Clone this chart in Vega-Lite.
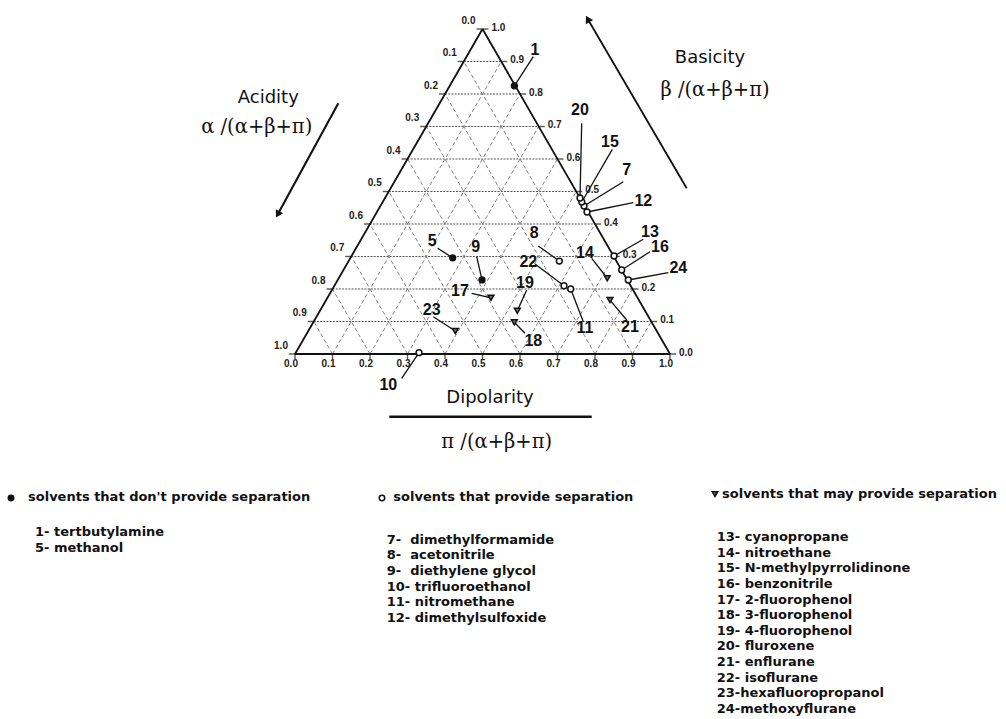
{
  "$schema": "https://vega.github.io/schema/vega-lite/v6.json",
  "width": 1006,
  "height": 719,
  "autosize": {"type": "none"},
  "padding": 0,
  "background": "white",
  "config": {"view": {"stroke": null}},
  "datasets": {
    "solvents": [
      {"id": 1, "name": "tertbutylamine", "group": "no separation", "marker": "dot", "u": 0.585, "v": 0.825, "label_u": 0.64, "label_v": 0.9354, "lead_u": 0.6355, "lead_v": 0.9148},
      {"id": 5, "name": "methanol", "group": "no separation", "marker": "dot", "u": 0.4205, "v": 0.296, "label_u": 0.3661, "label_v": 0.3486, "lead_u": 0.3805, "lead_v": 0.3252},
      {"id": 7, "name": "dimethylformamide", "group": "separation", "marker": "ring", "u": 0.7707, "v": 0.4554, "label_u": 0.8845, "label_v": 0.5662, "lead_u": 0.8755, "lead_v": 0.5302},
      {"id": 8, "name": "acetonitrile", "group": "separation", "marker": "ring", "u": 0.7048, "v": 0.286, "label_u": 0.6381, "label_v": 0.3714, "lead_u": 0.6488, "lead_v": 0.3323},
      {"id": 9, "name": "diethylene glycol", "group": "separation", "marker": "dot", "u": 0.4987, "v": 0.228, "label_u": 0.4819, "label_v": 0.3283, "lead_u": 0.4845, "lead_v": 0.2994},
      {"id": 10, "name": "trifluoroethanol", "group": "separation", "marker": "ring", "u": 0.3307, "v": 0.004, "label_u": 0.2488, "label_v": -0.0954, "lead_u": 0.2845, "lead_v": -0.0748},
      {"id": 11, "name": "nitromethane", "group": "separation", "marker": "ring", "u": 0.7352, "v": 0.2, "label_u": 0.7733, "label_v": 0.0791, "lead_u": 0.7688, "lead_v": 0.0994},
      {"id": 12, "name": "dimethylsulfoxide", "group": "separation", "marker": "ring", "u": 0.7787, "v": 0.4369, "label_u": 0.9288, "label_v": 0.4708, "lead_u": 0.9021, "lead_v": 0.4655},
      {"id": 13, "name": "cyanopropane", "group": "may separate", "marker": "ring", "u": 0.8507, "v": 0.3015, "label_u": 0.9467, "label_v": 0.3763, "lead_u": 0.9288, "lead_v": 0.3529},
      {"id": 14, "name": "nitroethane", "group": "may separate", "marker": "triangle", "u": 0.8328, "v": 0.233, "label_u": 0.7733, "label_v": 0.3098, "lead_u": 0.7912, "lead_v": 0.2945},
      {"id": 15, "name": "N-methylpyrrolidinone", "group": "may separate", "marker": "ring", "u": 0.7648, "v": 0.4677, "label_u": 0.84, "label_v": 0.6532, "lead_u": 0.8461, "lead_v": 0.6298},
      {"id": 16, "name": "benzonitrile", "group": "may separate", "marker": "ring", "u": 0.8712, "v": 0.2585, "label_u": 0.9733, "label_v": 0.3283, "lead_u": 0.9467, "lead_v": 0.3148},
      {"id": 17, "name": "2-fluorophenol", "group": "may separate", "marker": "triangle", "u": 0.5227, "v": 0.173, "label_u": 0.44, "label_v": 0.1948, "lead_u": 0.4712, "lead_v": 0.1865},
      {"id": 18, "name": "3-fluorophenol", "group": "may separate", "marker": "triangle", "u": 0.5848, "v": 0.0975, "label_u": 0.6355, "label_v": 0.0409, "lead_u": 0.6133, "lead_v": 0.0637},
      {"id": 19, "name": "4-fluorophenol", "group": "may separate", "marker": "triangle", "u": 0.5928, "v": 0.133, "label_u": 0.6133, "label_v": 0.2175, "lead_u": 0.6179, "lead_v": 0.1969},
      {"id": 20, "name": "fluroxene", "group": "may separate", "marker": "ring", "u": 0.76, "v": 0.48, "label_u": 0.76, "label_v": 0.7508, "lead_u": 0.7645, "lead_v": 0.7098},
      {"id": 21, "name": "enflurane", "group": "may separate", "marker": "triangle", "u": 0.84, "v": 0.166, "label_u": 0.8933, "label_v": 0.084, "lead_u": 0.8845, "lead_v": 0.1046},
      {"id": 22, "name": "isoflurane", "group": "may separate", "marker": "ring", "u": 0.7173, "v": 0.21, "label_u": 0.6221, "label_v": 0.284, "lead_u": 0.64, "lead_v": 0.2769},
      {"id": 23, "name": "hexafluoropropanol", "group": "may separate", "marker": "triangle", "u": 0.4275, "v": 0.0708, "label_u": 0.3645, "label_v": 0.1354, "lead_u": 0.3688, "lead_v": 0.1148},
      {"id": 24, "name": "methoxyflurane", "group": "may separate", "marker": "ring", "u": 0.8888, "v": 0.2277, "label_u": 1.0221, "label_v": 0.2637, "lead_u": 0.9955, "lead_v": 0.2502}
    ],
    "grid": [
      {"kind": "beta", "u": 0.05, "v": 0.1, "u2": 0.95, "v2": 0.1},
      {"kind": "beta", "u": 0.1, "v": 0.2, "u2": 0.9, "v2": 0.2},
      {"kind": "beta", "u": 0.15, "v": 0.3, "u2": 0.85, "v2": 0.3},
      {"kind": "beta", "u": 0.2, "v": 0.4, "u2": 0.8, "v2": 0.4},
      {"kind": "beta", "u": 0.25, "v": 0.5, "u2": 0.75, "v2": 0.5},
      {"kind": "beta", "u": 0.3, "v": 0.6, "u2": 0.7, "v2": 0.6},
      {"kind": "beta", "u": 0.35, "v": 0.7, "u2": 0.65, "v2": 0.7},
      {"kind": "beta", "u": 0.4, "v": 0.8, "u2": 0.6, "v2": 0.8},
      {"kind": "beta", "u": 0.45, "v": 0.9, "u2": 0.55, "v2": 0.9},
      {"kind": "alpha", "u": 0.1, "v": 0, "u2": 0.05, "v2": 0.1},
      {"kind": "alpha", "u": 0.2, "v": 0, "u2": 0.1, "v2": 0.2},
      {"kind": "alpha", "u": 0.3, "v": 0, "u2": 0.15, "v2": 0.3},
      {"kind": "alpha", "u": 0.4, "v": 0, "u2": 0.2, "v2": 0.4},
      {"kind": "alpha", "u": 0.5, "v": 0, "u2": 0.25, "v2": 0.5},
      {"kind": "alpha", "u": 0.6, "v": 0, "u2": 0.3, "v2": 0.6},
      {"kind": "alpha", "u": 0.7, "v": 0, "u2": 0.35, "v2": 0.7},
      {"kind": "alpha", "u": 0.8, "v": 0, "u2": 0.4, "v2": 0.8},
      {"kind": "alpha", "u": 0.9, "v": 0, "u2": 0.45, "v2": 0.9},
      {"kind": "pi", "u": 0.1, "v": 0, "u2": 0.55, "v2": 0.9},
      {"kind": "pi", "u": 0.2, "v": 0, "u2": 0.6, "v2": 0.8},
      {"kind": "pi", "u": 0.3, "v": 0, "u2": 0.65, "v2": 0.7},
      {"kind": "pi", "u": 0.4, "v": 0, "u2": 0.7, "v2": 0.6},
      {"kind": "pi", "u": 0.5, "v": 0, "u2": 0.75, "v2": 0.5},
      {"kind": "pi", "u": 0.6, "v": 0, "u2": 0.8, "v2": 0.4},
      {"kind": "pi", "u": 0.7, "v": 0, "u2": 0.85, "v2": 0.3},
      {"kind": "pi", "u": 0.8, "v": 0, "u2": 0.9, "v2": 0.2},
      {"kind": "pi", "u": 0.9, "v": 0, "u2": 0.95, "v2": 0.1}
    ],
    "frame": [
      {"edge": "dipolarity", "u": 0, "v": 0, "u2": 1, "v2": 0},
      {"edge": "acidity", "u": 0, "v": 0, "u2": 0.5, "v2": 1},
      {"edge": "basicity", "u": 1, "v": 0, "u2": 0.5, "v2": 1}
    ],
    "ticks": [
      {"k": 0.0, "left": 0.0, "right": 1.0, "alpha": "1.0", "beta": "0.0", "pi": "0.0"},
      {"k": 0.1, "left": 0.05, "right": 0.95, "alpha": "0.9", "beta": "0.1", "pi": "0.1"},
      {"k": 0.2, "left": 0.1, "right": 0.9, "alpha": "0.8", "beta": "0.2", "pi": "0.2"},
      {"k": 0.3, "left": 0.15, "right": 0.85, "alpha": "0.7", "beta": "0.3", "pi": "0.3"},
      {"k": 0.4, "left": 0.2, "right": 0.8, "alpha": "0.6", "beta": "0.4", "pi": "0.4"},
      {"k": 0.5, "left": 0.25, "right": 0.75, "alpha": "0.5", "beta": "0.5", "pi": "0.5"},
      {"k": 0.6, "left": 0.3, "right": 0.7, "alpha": "0.4", "beta": "0.6", "pi": "0.6"},
      {"k": 0.7, "left": 0.35, "right": 0.65, "alpha": "0.3", "beta": "0.7", "pi": "0.7"},
      {"k": 0.8, "left": 0.4, "right": 0.6, "alpha": "0.2", "beta": "0.8", "pi": "0.8"},
      {"k": 0.9, "left": 0.45, "right": 0.55, "alpha": "0.1", "beta": "0.9", "pi": "0.9"},
      {"k": 1.0, "left": 0.5, "right": 0.5, "alpha": "0.0", "beta": "1.0", "pi": "1.0"}
    ],
    "arrows": [
      {"name": "acidity", "u": 0.1155, "v": 0.7714, "u2": -0.0445, "v2": 0.4329, "heading": 208.6},
      {"name": "basicity", "u": 1.0445, "v": 0.5098, "u2": 0.7821, "v2": 1.0277, "heading": 329.7},
      {"name": "dipolarity", "u": 0.2515, "v": -0.1929, "u2": 0.7912, "v2": -0.1929, "heading": 90}
    ],
    "titles": [
      {"role": "name", "text": "Acidity", "u": -0.0712, "v": 0.7868},
      {"role": "formula", "text": "α /(α+β+π)", "u": -0.1021, "v": 0.6994},
      {"role": "name", "text": "Basicity", "u": 1.1067, "v": 0.9098},
      {"role": "formula", "text": "β /(α+β+π)", "u": 1.12, "v": 0.8123},
      {"role": "name", "text": "Dipolarity", "u": 0.52, "v": -0.1363},
      {"role": "formula", "text": "π /(α+β+π)", "u": 0.5379, "v": -0.2698}
    ],
    "legend": [
      {"marker": "dot", "header": "solvents that don't provide separation", "u": -0.712, "v": -0.4523, "mu": -0.7573, "mv": -0.4431,
       "items": "1- tertbutylamine\n5- methanol", "iu": -0.6933, "iv": -0.56},
      {"marker": "ring", "header": "solvents that provide separation", "u": 0.2621, "v": -0.4523, "mu": 0.232, "mv": -0.4431,
       "items": "7-\u00a0 dimethylformamide\n8-\u00a0 acetonitrile\n9-\u00a0 diethylene glycol\n10- trifluoroethanol\n11- nitromethane\n12- dimethylsulfoxide", "iu": 0.2445, "iv": -0.584},
      {"marker": "triangle", "header": "solvents that may provide separation", "u": 1.1387, "v": -0.444, "mu": 1.12, "mv": -0.4308,
       "items": "13- cyanopropane\n14- nitroethane\n15- N-methylpyrrolidinone\n16- benzonitrile\n17- 2-fluorophenol\n18- 3-fluorophenol\n19- 4-fluorophenol\n20- fluroxene\n21- enflurane\n22- isoflurane\n23-hexafluoropropanol\n24-methoxyflurane", "iu": 1.1245, "iv": -0.576}
    ]
  },
  "layer": [
    {
      "data": {"name": "grid"},
      "transform": [{"filter": "datum.kind === 'beta'"}],
      "mark": {"type": "rule", "color": "#555555", "strokeWidth": 1, "strokeDash": [2, 1.2]},
      "encoding": {
        "x": {"field": "u", "type": "quantitative", "scale": {"domain": [-0.78667, 1.896], "nice": false, "zero": false}, "axis": null},
        "y": {"field": "v", "type": "quantitative", "scale": {"domain": [-1.12308, 1.08923], "nice": false, "zero": false}, "axis": null},
        "x2": {"field": "u2"},
        "y2": {"field": "v2"}
      }
    },
    {
      "data": {"name": "grid"},
      "transform": [{"filter": "datum.kind !== 'beta'"}],
      "mark": {"type": "rule", "color": "#808080", "strokeWidth": 1, "strokeDash": [4, 2.5]},
      "encoding": {
        "x": {"field": "u", "type": "quantitative", "scale": {"domain": [-0.78667, 1.896], "nice": false, "zero": false}, "axis": null},
        "y": {"field": "v", "type": "quantitative", "scale": {"domain": [-1.12308, 1.08923], "nice": false, "zero": false}, "axis": null},
        "x2": {"field": "u2"},
        "y2": {"field": "v2"}
      }
    },
    {
      "data": {"name": "frame"},
      "mark": {"type": "rule", "color": "#111111", "strokeWidth": 1.8},
      "encoding": {
        "x": {"field": "u", "type": "quantitative", "scale": {"domain": [-0.78667, 1.896], "nice": false, "zero": false}, "axis": null},
        "y": {"field": "v", "type": "quantitative", "scale": {"domain": [-1.12308, 1.08923], "nice": false, "zero": false}, "axis": null},
        "x2": {"field": "u2"},
        "y2": {"field": "v2"},
        "strokeWidth": {"field": "edge", "type": "nominal", "scale": {"domain": ["dipolarity", "acidity", "basicity"], "range": [2.4, 1.8, 1.8]}, "legend": null}
      }
    },
    {
      "data": {"name": "ticks"},
      "mark": {"type": "tick", "orient": "horizontal", "color": "#111111", "size": 6, "thickness": 1.4, "xOffset": -3},
      "encoding": {
        "x": {"field": "left", "type": "quantitative", "scale": {"domain": [-0.78667, 1.896], "nice": false, "zero": false}, "axis": null},
        "y": {"field": "k", "type": "quantitative", "scale": {"domain": [-1.12308, 1.08923], "nice": false, "zero": false}, "axis": null}
      }
    },
    {
      "data": {"name": "ticks"},
      "mark": {"type": "tick", "orient": "horizontal", "color": "#111111", "size": 6, "thickness": 1.4, "xOffset": 3},
      "encoding": {
        "x": {"field": "right", "type": "quantitative", "scale": {"domain": [-0.78667, 1.896], "nice": false, "zero": false}, "axis": null},
        "y": {"field": "k", "type": "quantitative", "scale": {"domain": [-1.12308, 1.08923], "nice": false, "zero": false}, "axis": null}
      }
    },
    {
      "data": {"name": "ticks"},
      "mark": {"type": "tick", "orient": "vertical", "color": "#111111", "size": 6, "thickness": 1.4, "yOffset": 2},
      "encoding": {
        "x": {"field": "k", "type": "quantitative", "scale": {"domain": [-0.78667, 1.896], "nice": false, "zero": false}, "axis": null},
        "y": {"datum": 0, "type": "quantitative", "scale": {"domain": [-1.12308, 1.08923], "nice": false, "zero": false}, "axis": null}
      }
    },
    {
      "data": {"name": "ticks"},
      "mark": {"type": "text", "font": "Liberation Sans", "fontWeight": "bold", "fontSize": 10, "color": "#222222", "align": "center", "baseline": "middle", "dx": -14, "dy": -8},
      "encoding": {
        "x": {"field": "left", "type": "quantitative", "scale": {"domain": [-0.78667, 1.896], "nice": false, "zero": false}, "axis": null},
        "y": {"field": "k", "type": "quantitative", "scale": {"domain": [-1.12308, 1.08923], "nice": false, "zero": false}, "axis": null},
        "text": {"field": "alpha", "type": "nominal"}
      }
    },
    {
      "data": {"name": "ticks"},
      "mark": {"type": "text", "font": "Liberation Sans", "fontWeight": "bold", "fontSize": 10, "color": "#222222", "align": "left", "baseline": "middle", "dx": 9, "dy": -1},
      "encoding": {
        "x": {"field": "right", "type": "quantitative", "scale": {"domain": [-0.78667, 1.896], "nice": false, "zero": false}, "axis": null},
        "y": {"field": "k", "type": "quantitative", "scale": {"domain": [-1.12308, 1.08923], "nice": false, "zero": false}, "axis": null},
        "text": {"field": "beta", "type": "nominal"}
      }
    },
    {
      "data": {"name": "ticks"},
      "mark": {"type": "text", "font": "Liberation Sans", "fontWeight": "bold", "fontSize": 10, "color": "#222222", "align": "center", "baseline": "middle", "dx": -4, "dy": 10},
      "encoding": {
        "x": {"field": "k", "type": "quantitative", "scale": {"domain": [-0.78667, 1.896], "nice": false, "zero": false}, "axis": null},
        "y": {"datum": 0, "type": "quantitative", "scale": {"domain": [-1.12308, 1.08923], "nice": false, "zero": false}, "axis": null},
        "text": {"field": "pi", "type": "nominal"}
      }
    },
    {
      "data": {"name": "solvents"},
      "mark": {"type": "rule", "color": "#111111", "strokeWidth": 1.3},
      "encoding": {
        "x": {"field": "lead_u", "type": "quantitative", "scale": {"domain": [-0.78667, 1.896], "nice": false, "zero": false}, "axis": null},
        "y": {"field": "lead_v", "type": "quantitative", "scale": {"domain": [-1.12308, 1.08923], "nice": false, "zero": false}, "axis": null},
        "x2": {"field": "u"},
        "y2": {"field": "v"}
      }
    },
    {
      "data": {"name": "solvents"},
      "mark": {"type": "point", "filled": false, "strokeWidth": 1.5, "opacity": 1, "size": 34},
      "encoding": {
        "x": {"field": "u", "type": "quantitative", "scale": {"domain": [-0.78667, 1.896], "nice": false, "zero": false}, "axis": null},
        "y": {"field": "v", "type": "quantitative", "scale": {"domain": [-1.12308, 1.08923], "nice": false, "zero": false}, "axis": null},
        "shape": {"field": "marker", "type": "nominal", "scale": {"domain": ["dot", "ring", "triangle"], "range": ["circle", "circle", "triangle-down"]}, "legend": null},
        "fill": {"field": "marker", "type": "nominal", "scale": {"domain": ["dot", "ring", "triangle"], "range": ["#111111", "#ffffff", "#777777"]}, "legend": null},
        "stroke": {"value": "#111111"}
      }
    },
    {
      "data": {"name": "solvents"},
      "mark": {"type": "text", "font": "Liberation Sans", "fontWeight": "bold", "fontSize": 16, "color": "#111111", "align": "center", "baseline": "middle"},
      "encoding": {
        "x": {"field": "label_u", "type": "quantitative", "scale": {"domain": [-0.78667, 1.896], "nice": false, "zero": false}, "axis": null},
        "y": {"field": "label_v", "type": "quantitative", "scale": {"domain": [-1.12308, 1.08923], "nice": false, "zero": false}, "axis": null},
        "text": {"field": "id", "type": "nominal"}
      }
    },
    {
      "data": {"name": "arrows"},
      "mark": {"type": "rule", "color": "#111111"},
      "encoding": {
        "x": {"field": "u", "type": "quantitative", "scale": {"domain": [-0.78667, 1.896], "nice": false, "zero": false}, "axis": null},
        "y": {"field": "v", "type": "quantitative", "scale": {"domain": [-1.12308, 1.08923], "nice": false, "zero": false}, "axis": null},
        "x2": {"field": "u2"},
        "y2": {"field": "v2"},
        "strokeWidth": {"field": "name", "type": "nominal", "scale": {"domain": ["acidity", "basicity", "dipolarity"], "range": [2, 2, 1.5]}, "legend": null}
      }
    },
    {
      "data": {"name": "arrows"},
      "transform": [{"filter": "datum.name !== 'dipolarity'"}],
      "mark": {"type": "point", "shape": "triangle", "filled": true, "color": "#111111", "size": 70, "opacity": 1},
      "encoding": {
        "x": {"field": "u2", "type": "quantitative", "scale": {"domain": [-0.78667, 1.896], "nice": false, "zero": false}, "axis": null},
        "y": {"field": "v2", "type": "quantitative", "scale": {"domain": [-1.12308, 1.08923], "nice": false, "zero": false}, "axis": null},
        "angle": {"field": "heading", "type": "quantitative", "scale": null}
      }
    },
    {
      "data": {"name": "titles"},
      "transform": [{"filter": "datum.role === 'name'"}],
      "mark": {"type": "text", "font": "DejaVu Sans", "fontSize": 18, "color": "#111111", "align": "center", "baseline": "middle"},
      "encoding": {
        "x": {"field": "u", "type": "quantitative", "scale": {"domain": [-0.78667, 1.896], "nice": false, "zero": false}, "axis": null},
        "y": {"field": "v", "type": "quantitative", "scale": {"domain": [-1.12308, 1.08923], "nice": false, "zero": false}, "axis": null},
        "text": {"field": "text", "type": "nominal"}
      }
    },
    {
      "data": {"name": "titles"},
      "transform": [{"filter": "datum.role === 'formula'"}],
      "mark": {"type": "text", "font": "DejaVu Serif", "fontSize": 19.5, "color": "#111111", "align": "center", "baseline": "middle"},
      "encoding": {
        "x": {"field": "u", "type": "quantitative", "scale": {"domain": [-0.78667, 1.896], "nice": false, "zero": false}, "axis": null},
        "y": {"field": "v", "type": "quantitative", "scale": {"domain": [-1.12308, 1.08923], "nice": false, "zero": false}, "axis": null},
        "text": {"field": "text", "type": "nominal"}
      }
    },
    {
      "data": {"name": "legend"},
      "mark": {"type": "text", "font": "DejaVu Sans", "fontWeight": "bold", "fontSize": 13, "color": "#111111", "align": "left", "baseline": "alphabetic"},
      "encoding": {
        "x": {"field": "u", "type": "quantitative", "scale": {"domain": [-0.78667, 1.896], "nice": false, "zero": false}, "axis": null},
        "y": {"field": "v", "type": "quantitative", "scale": {"domain": [-1.12308, 1.08923], "nice": false, "zero": false}, "axis": null},
        "text": {"field": "header", "type": "nominal"}
      }
    },
    {
      "data": {"name": "legend"},
      "mark": {"type": "point", "filled": false, "strokeWidth": 1.5, "opacity": 1, "size": 30},
      "encoding": {
        "x": {"field": "mu", "type": "quantitative", "scale": {"domain": [-0.78667, 1.896], "nice": false, "zero": false}, "axis": null},
        "y": {"field": "mv", "type": "quantitative", "scale": {"domain": [-1.12308, 1.08923], "nice": false, "zero": false}, "axis": null},
        "shape": {"field": "marker", "type": "nominal", "scale": {"domain": ["dot", "ring", "triangle"], "range": ["circle", "circle", "triangle-down"]}, "legend": null},
        "fill": {"field": "marker", "type": "nominal", "scale": {"domain": ["dot", "ring", "triangle"], "range": ["#111111", "#ffffff", "#ffffff"]}, "legend": null},
        "stroke": {"value": "#111111"}
      }
    },
    {
      "data": {"name": "legend"},
      "mark": {"type": "text", "font": "DejaVu Sans", "fontWeight": "bold", "fontSize": 13, "color": "#111111", "align": "left", "baseline": "alphabetic", "lineBreak": "\n", "lineHeight": 15.6},
      "encoding": {
        "x": {"field": "iu", "type": "quantitative", "scale": {"domain": [-0.78667, 1.896], "nice": false, "zero": false}, "axis": null},
        "y": {"field": "iv", "type": "quantitative", "scale": {"domain": [-1.12308, 1.08923], "nice": false, "zero": false}, "axis": null},
        "text": {"field": "items", "type": "nominal"}
      }
    }
  ]
}
